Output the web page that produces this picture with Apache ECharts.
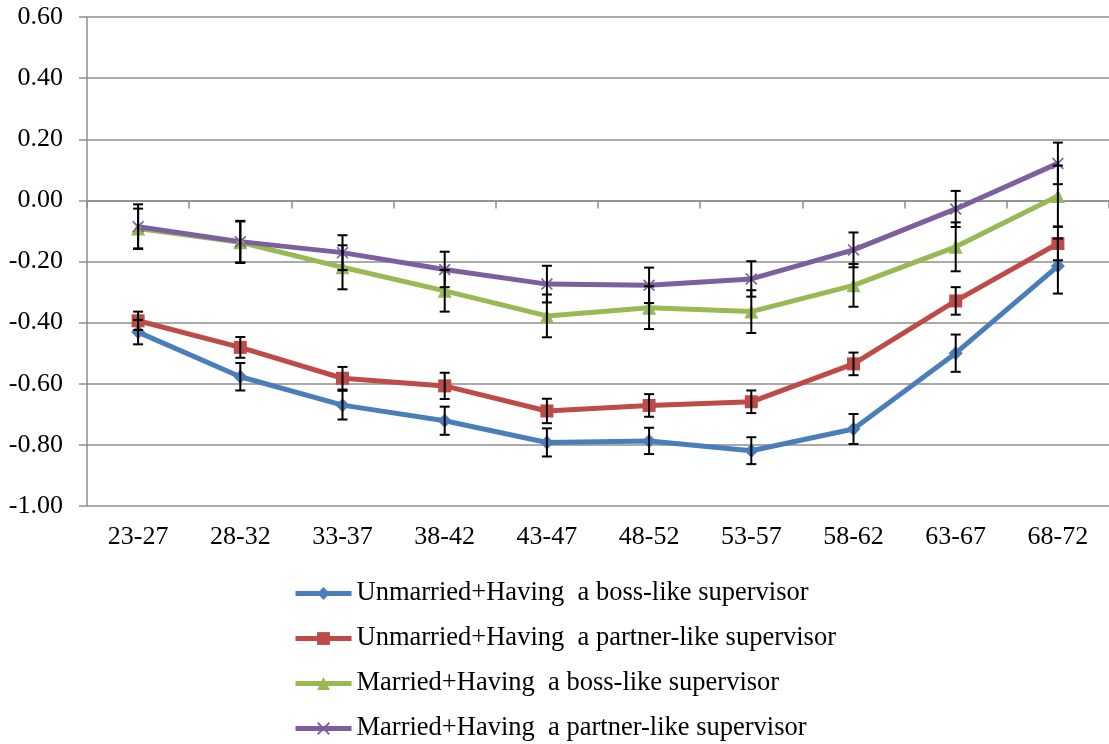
<!DOCTYPE html>
<html>
<head>
<meta charset="utf-8">
<script src="https://cdn.jsdelivr.net/npm/echarts@6/dist/echarts.min.js"></script>
<style>
  html, body { margin: 0; padding: 0; background: #fff; }
  #chart { width: 1109px; height: 744px; }
</style>
</head>
<body>
<div id="chart"></div>
<script>
// age groups
var categories = ['23-27', '28-32', '33-37', '38-42', '43-47', '48-52', '53-57', '58-62', '63-67', '68-72'];

var seriesNames = [
  'Unmarried+Having  a boss-like supervisor',
  'Unmarried+Having  a partner-like supervisor',
  'Married+Having  a boss-like supervisor',
  'Married+Having  a partner-like supervisor'
];

// mean values
var unmarriedBoss    = [-0.431, -0.577, -0.670, -0.721, -0.792, -0.787, -0.819, -0.748, -0.500, -0.215];
var unmarriedPartner = [-0.394, -0.481, -0.582, -0.607, -0.689, -0.671, -0.659, -0.535, -0.329, -0.141];
var marriedBoss      = [-0.092, -0.137, -0.219, -0.296, -0.378, -0.351, -0.364, -0.278, -0.152, 0.014];
var marriedPartner   = [-0.086, -0.135, -0.171, -0.226, -0.274, -0.278, -0.257, -0.162, -0.028, 0.121];

// error bar half widths
var errUnmarriedBoss    = [0.040, 0.045, 0.047, 0.046, 0.046, 0.043, 0.044, 0.049, 0.061, 0.090];
var errUnmarriedPartner = [0.030, 0.034, 0.037, 0.043, 0.040, 0.037, 0.037, 0.037, 0.045, 0.055];
var errMarriedBoss      = [0.065, 0.068, 0.072, 0.068, 0.070, 0.070, 0.070, 0.070, 0.080, 0.100];
var errMarriedPartner   = [0.073, 0.068, 0.057, 0.058, 0.060, 0.058, 0.058, 0.057, 0.059, 0.068];

var yTicks = { min: -1.0, max: 0.6, interval: 0.2 };

var colors = ['#4A7EBB', '#BE4B48', '#98B954', '#7D5FA0'];
var symbols = [
  'diamond',
  'rect',
  'triangle',
  'path://M0,1L1,0L5,4L9,0L10,1L6,5L10,9L9,10L5,6L1,10L0,9L4,5Z'
];
var symbolSizes = [14, 13, 14, 12];
var values = [unmarriedBoss, unmarriedPartner, marriedBoss, marriedPartner];
var errors = [errUnmarriedBoss, errUnmarriedPartner, errMarriedBoss, errMarriedPartner];

var font = '"Liberation Serif", "Times New Roman", serif';
var gridColor = '#8E8E8E';

var chart = echarts.init(document.getElementById('chart'));

function errorBarRender(params, api) {
  var idx = api.value(0);
  var lo = api.coord([idx, api.value(1)]);
  var hi = api.coord([idx, api.value(2)]);
  var cap = 5;
  var style = { stroke: '#000', lineWidth: 2 };
  return {
    type: 'group',
    children: [
      { type: 'line', shape: { x1: lo[0], y1: lo[1], x2: hi[0], y2: hi[1] }, style: style },
      { type: 'line', shape: { x1: lo[0] - cap, y1: lo[1], x2: lo[0] + cap, y2: lo[1] }, style: style },
      { type: 'line', shape: { x1: hi[0] - cap, y1: hi[1], x2: hi[0] + cap, y2: hi[1] }, style: style }
    ]
  };
}

var series = [];
values.forEach(function (vals, i) {
  series.push({
    name: seriesNames[i],
    type: 'line',
    data: vals,
    symbol: symbols[i],
    symbolSize: symbolSizes[i],
    showAllSymbol: true,
    lineStyle: { color: colors[i], width: 5 },
    itemStyle: { color: colors[i] },
    z: 2,
    animation: false
  });
  series.push({
    name: seriesNames[i] + ' err',
    type: 'custom',
    renderItem: errorBarRender,
    data: vals.map(function (v, k) { return [k, v - errors[i][k], v + errors[i][k]]; }),
    encode: { x: 0, y: [1, 2] },
    z: 3,
    silent: true,
    animation: false
  });
});

chart.setOption({
  animation: false,
  backgroundColor: '#fff',
  grid: { left: 87, top: 17, width: 1027, height: 489, containLabel: false },
  legend: {
    data: seriesNames,
    orient: 'vertical',
    left: 293,
    top: 580,
    width: 700,
    height: 220,
    padding: 0,
    itemWidth: 56,
    itemHeight: 16,
    itemGap: 18,
    lineStyle: { width: 5 },
    textStyle: { fontFamily: font, fontSize: 26.5, color: '#000' }
  },
  xAxis: [
    {
      type: 'category',
      data: categories,
      position: 'bottom',
      axisLine: { show: false, onZero: false },
      axisTick: { show: false },
      axisLabel: { fontFamily: font, fontSize: 26, color: '#000', margin: 18 }
    },
    {
      type: 'category',
      data: categories,
      position: 'bottom',
      axisLine: { show: true, onZero: true, lineStyle: { color: gridColor, width: 1.5 } },
      axisTick: { show: true, length: 8, lineStyle: { color: gridColor, width: 1.5 } },
      axisLabel: { show: false }
    }
  ],
  yAxis: {
    type: 'value',
    min: yTicks.min,
    max: yTicks.max,
    interval: yTicks.interval,
    axisLine: { show: true, lineStyle: { color: gridColor, width: 1.5 } },
    axisTick: { show: true, length: 8, lineStyle: { color: gridColor, width: 1.5 } },
    splitLine: { show: true, lineStyle: { color: gridColor, width: 1.5 } },
    axisLabel: {
      fontFamily: font, fontSize: 26, color: '#000', margin: 24,
      formatter: function (v) { return v.toFixed(2); }
    }
  },
  series: series
});
</script>
</body>
</html>
